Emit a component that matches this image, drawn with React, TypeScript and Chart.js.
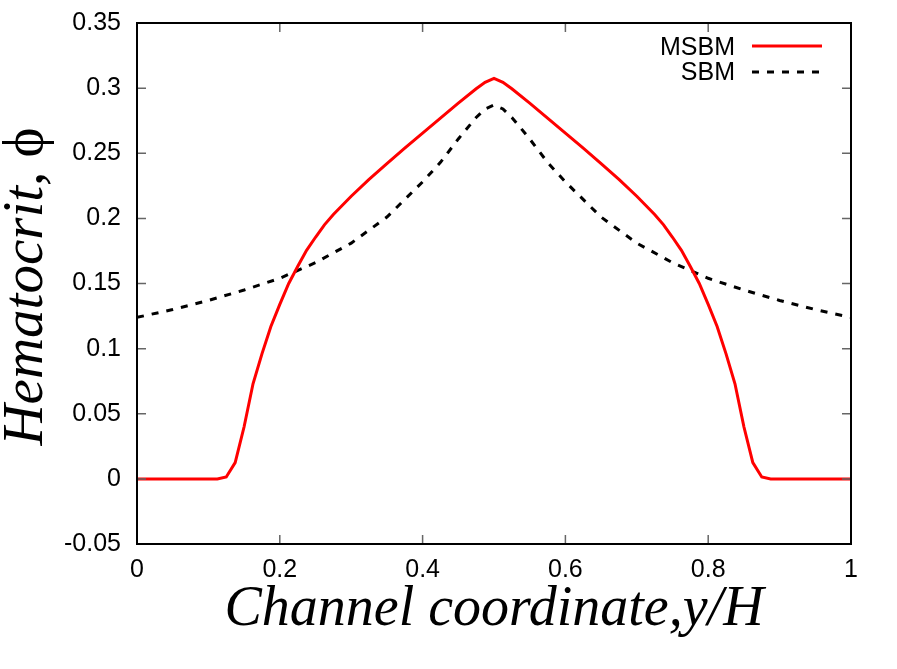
import React, { useEffect, useRef } from "react";
import { Chart, registerables } from "chart.js";

Chart.register(...registerables);

const msbmX = [0, 0.1125, 0.125, 0.1375, 0.15, 0.1625, 0.175, 0.1875, 0.2, 0.2125, 0.225, 0.2375, 0.25, 0.2625, 0.275, 0.3, 0.325, 0.35, 0.375, 0.4, 0.425, 0.45, 0.475, 0.4875, 0.5, 0.5125, 0.525, 0.55, 0.575, 0.6, 0.625, 0.65, 0.675, 0.7, 0.725, 0.7375, 0.75, 0.7625, 0.775, 0.7875, 0.8, 0.8125, 0.825, 0.8375, 0.85, 0.8625, 0.875, 0.8875, 1];
const msbmY = [0, 0, 0.0015, 0.0125, 0.04, 0.073, 0.096, 0.117, 0.134, 0.15, 0.163, 0.1755, 0.1855, 0.195, 0.203, 0.217, 0.23, 0.242, 0.254, 0.2655, 0.277, 0.2885, 0.2995, 0.3045, 0.3075, 0.3045, 0.2995, 0.2885, 0.277, 0.2655, 0.254, 0.242, 0.23, 0.217, 0.203, 0.195, 0.1855, 0.1755, 0.163, 0.15, 0.134, 0.117, 0.096, 0.073, 0.04, 0.0125, 0.0015, 0, 0];

const sbmX = [0, 0.05, 0.1, 0.15, 0.2, 0.25, 0.3, 0.35, 0.4, 0.425, 0.45, 0.475, 0.4875, 0.5, 0.5125, 0.525, 0.55, 0.575, 0.6, 0.65, 0.7, 0.75, 0.8, 0.85, 0.9, 0.95, 1];
const sbmY = [0.124, 0.13, 0.137, 0.145, 0.154, 0.166, 0.181, 0.201, 0.228, 0.243, 0.261, 0.2775, 0.284, 0.287, 0.284, 0.2775, 0.261, 0.243, 0.228, 0.201, 0.181, 0.166, 0.154, 0.145, 0.137, 0.13, 0.124];

const seriesNames = ["MSBM", "SBM"];
const xTickValues = [0, 0.2, 0.4, 0.6, 0.8, 1];
const yTickValues = [-0.05, 0, 0.05, 0.1, 0.15, 0.2, 0.25, 0.3, 0.35];
const xTitle = "Channel coordinate,y/H";
const yTitleMain = "Hematocrit, ";
const yTitleSymbol = "ϕ";

const W = 897;
const H = 669;
const TICK_FONT = "'Liberation Sans', Arial, sans-serif";

const framePlugin = {
  id: "frame",
  afterDatasetsDraw(chart: any) {
    const { ctx, chartArea: a, scales } = chart;
    const xs = scales.x;
    const ys = scales.y;
    ctx.save();
    ctx.strokeStyle = "#666";
    ctx.lineWidth = 1.5;
    const tl = 9;
    xTickValues.forEach((v) => {
      const px = xs.getPixelForValue(v);
      ctx.beginPath();
      ctx.moveTo(px, a.bottom);
      ctx.lineTo(px, a.bottom - tl);
      ctx.moveTo(px, a.top);
      ctx.lineTo(px, a.top + tl);
      ctx.stroke();
    });
    yTickValues.forEach((v) => {
      const py = ys.getPixelForValue(v);
      ctx.beginPath();
      ctx.moveTo(a.left, py);
      ctx.lineTo(a.left + tl, py);
      ctx.moveTo(a.right, py);
      ctx.lineTo(a.right - tl, py);
      ctx.stroke();
    });
    ctx.strokeStyle = "#000";
    ctx.lineWidth = 2;
    ctx.strokeRect(a.left, a.top, a.right - a.left, a.bottom - a.top);

    ctx.font = "25px " + TICK_FONT;
    ctx.fillStyle = "#000";
    ctx.textAlign = "right";
    ctx.textBaseline = "alphabetic";
    const textRight = a.right - 116;
    const lineL = a.right - 99;
    const lineR = a.right - 29;
    const rows = [
      { y: a.top + 23, base: a.top + 32, color: "#ff0000", dash: [] as number[] },
      { y: a.top + 49, base: a.top + 57, color: "#000000", dash: [7, 8] },
    ];
    rows.forEach((r, i) => {
      ctx.fillText(seriesNames[i], textRight, r.base);
      ctx.save();
      ctx.strokeStyle = r.color;
      ctx.lineWidth = 3;
      ctx.setLineDash(r.dash);
      ctx.beginPath();
      ctx.moveTo(lineL, r.y);
      ctx.lineTo(lineR, r.y);
      ctx.stroke();
      ctx.restore();
    });
    ctx.restore();
  },
  afterDraw(chart: any) {
    const { ctx, chartArea: a } = chart;
    ctx.save();
    ctx.fillStyle = "#000";
    ctx.textBaseline = "alphabetic";
    ctx.font = "italic 56px 'Liberation Serif', 'Times New Roman', serif";
    ctx.textAlign = "center";
    ctx.fillText(xTitle, (a.left + a.right) / 2, 625);
    const fItalic = "italic 57px 'Liberation Serif', 'Times New Roman', serif";
    const fNormal = "57px 'Liberation Serif', 'Times New Roman', serif";
    ctx.font = fItalic;
    const w1 = ctx.measureText(yTitleMain).width;
    ctx.font = fNormal;
    const w2 = ctx.measureText(yTitleSymbol).width;
    const total = w1 + w2;
    ctx.translate(42, (a.top + a.bottom) / 2 + 3);
    ctx.rotate(-Math.PI / 2);
    ctx.textAlign = "left";
    ctx.font = fItalic;
    ctx.fillText(yTitleMain, -total / 2, 0);
    ctx.font = fNormal;
    ctx.fillText(yTitleSymbol, -total / 2 + w1, 0);
    ctx.restore();
  },
};

function fmt(v: number) {
  return String(Number(v.toFixed(2)));
}

export default function App() {
  const ref = useRef<HTMLCanvasElement | null>(null);
  useEffect(() => {
    document.body.style.margin = "0";
    const canvas = ref.current;
    if (!canvas) return;
    const chart = new Chart(canvas, {
      type: "line",
      data: {
        datasets: [
          {
            label: seriesNames[0],
            data: msbmX.map((x, i) => ({ x, y: msbmY[i] })),
            borderColor: "#ff0000",
            borderWidth: 3,
            pointRadius: 0,
            tension: 0,
            fill: false,
          },
          {
            label: seriesNames[1],
            data: sbmX.map((x, i) => ({ x, y: sbmY[i] })),
            borderColor: "#000000",
            borderWidth: 3,
            borderDash: [7, 8],
            pointRadius: 0,
            tension: 0,
            fill: false,
          },
        ],
      },
      options: {
        responsive: false,
        animation: false,
        devicePixelRatio: 1,
        layout: { padding: { left: 0, right: 46, top: 23, bottom: 0 } },
        plugins: { legend: { display: false }, tooltip: { enabled: false } },
        scales: {
          x: {
            type: "linear",
            min: 0,
            max: 1,
            grid: { display: false, drawTicks: false },
            border: { display: false },
            afterFit: (s: any) => {
              s.height = 125;
              s.paddingLeft = 0;
              s.paddingRight = 0;
            },
            afterBuildTicks: (s: any) => {
              s.ticks = xTickValues.map((v) => ({ value: v }));
            },
            ticks: {
              padding: 11,
              color: "#000",
              font: { family: TICK_FONT, size: 25 },
              callback: (v: any) => fmt(Number(v)),
              maxRotation: 0,
            },
          },
          y: {
            type: "linear",
            min: -0.05,
            max: 0.35,
            grid: { display: false, drawTicks: false },
            border: { display: false },
            afterFit: (s: any) => {
              s.width = 137;
              s.paddingTop = 0;
              s.paddingBottom = 0;
            },
            afterBuildTicks: (s: any) => {
              s.ticks = yTickValues.map((v) => ({ value: v }));
            },
            ticks: {
              padding: 16,
              color: "#000",
              font: { family: TICK_FONT, size: 25 },
              callback: (v: any) => fmt(Number(v)),
            },
          },
        },
      },
      plugins: [framePlugin],
    });
    return () => chart.destroy();
  }, []);
  return (
    <div style={{ width: W, height: H, background: "#fff" }}>
      <canvas ref={ref} width={W} height={H} style={{ width: W, height: H, display: "block" }} />
    </div>
  );
}
